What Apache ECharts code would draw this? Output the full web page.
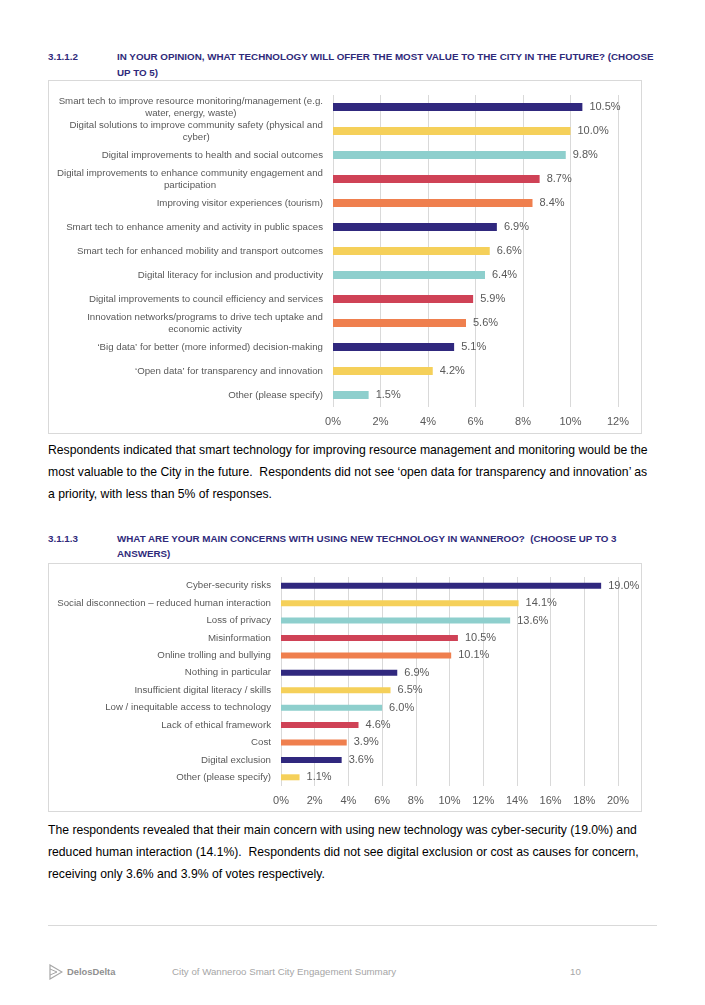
<!DOCTYPE html>
<html><head><meta charset="utf-8">
<script src="https://cdn.jsdelivr.net/npm/echarts/dist/echarts.min.js"></script>
<style>
html,body{margin:0;padding:0;background:#fff;}
body{width:705px;height:1005px;position:relative;overflow:hidden;font-family:"Liberation Sans",Arial,sans-serif;}
.h{position:absolute;color:#2f2a7a;font-weight:bold;font-size:9.8px;line-height:16px;white-space:nowrap;}
.p{position:absolute;left:48px;color:#000;font-size:12.2px;line-height:22px;white-space:nowrap;}
.box{position:absolute;border:1px solid #d9d9d9;box-sizing:border-box;}
.foot{position:absolute;color:#a6a6a6;font-size:9.7px;white-space:nowrap;}
</style></head>
<body>
<div class="h" style="left:48px;top:49px;">3.1.1.2</div>
<div class="h" style="left:117px;top:49px;">IN YOUR OPINION, WHAT TECHNOLOGY WILL OFFER THE MOST VALUE TO THE CITY IN THE FUTURE? (CHOOSE<br>UP TO 5)</div>
<div id="c1" class="box" style="left:48px;top:80px;width:594px;height:354px;"></div>
<div class="p" style="top:439px;">Respondents indicated that smart technology for improving resource management and monitoring would be the<br>most valuable to the City in the future.&nbsp; Respondents did not see ‘open data for transparency and innovation’ as<br>a priority, with less than 5% of responses.</div>
<div class="h" style="left:48px;top:531px;line-height:15px;">3.1.1.3</div>
<div class="h" style="left:117px;top:531px;line-height:15px;">WHAT ARE YOUR MAIN CONCERNS WITH USING NEW TECHNOLOGY IN WANNEROO?&nbsp; (CHOOSE UP TO 3<br>ANSWERS)</div>
<div id="c2" class="box" style="left:48px;top:563px;width:594px;height:249px;"></div>
<div class="p" style="top:819px;">The respondents revealed that their main concern with using new technology was cyber-security (19.0%) and<br>reduced human interaction (14.1%).&nbsp; Respondents did not see digital exclusion or cost as causes for concern,<br>receiving only 3.6% and 3.9% of votes respectively.</div>
<div style="position:absolute;left:48px;top:925px;width:609px;height:1px;background:#d9d9d9;"></div>
<svg style="position:absolute;left:49px;top:964px;" width="14" height="16" viewBox="0 0 14 16"><path d="M1 1 L13 8 L1 15 Z" fill="none" stroke="#a6a6a6" stroke-width="1.2"/><path d="M1 5 L8 8 L1 11" fill="none" stroke="#a6a6a6" stroke-width="1"/></svg>
<div class="foot" style="left:67px;top:966px;font-weight:bold;color:#909090;font-size:9.4px;">DelosDelta</div>
<div class="foot" style="left:172px;top:966px;">City of Wanneroo Smart City Engagement Summary</div>
<div class="foot" style="left:570px;top:966px;">10</div>
<script>
const palette = ['#30287e', '#f5d05a', '#8ecfcd', '#cf4256', '#ef7f4e'];

const techCategories = [
  'Smart tech to improve resource monitoring/management (e.g.\nwater, energy, waste)',
  'Digital solutions to improve community safety (physical and\ncyber)',
  'Digital improvements to health and social outcomes',
  'Digital improvements to enhance community engagement and\nparticipation',
  'Improving visitor experiences (tourism)',
  'Smart tech to enhance amenity and activity in public spaces',
  'Smart tech for enhanced mobility and transport outcomes',
  'Digital literacy for inclusion and productivity',
  'Digital improvements to council efficiency and services',
  'Innovation networks/programs to drive tech uptake and\neconomic activity',
  '‘Big data’ for better (more informed) decision-making',
  '‘Open data’ for transparency and innovation',
  'Other (please specify)'
];
const techValues = [10.5, 10.0, 9.8, 8.7, 8.4, 6.9, 6.6, 6.4, 5.9, 5.6, 5.1, 4.2, 1.5];
const techTicks = { min: 0, max: 12, interval: 2 };

const concernCategories = [
  'Cyber-security risks',
  'Social disconnection – reduced human interaction',
  'Loss of privacy',
  'Misinformation',
  'Online trolling and bullying',
  'Nothing in particular',
  'Insufficient digital literacy / skills',
  'Low / inequitable access to technology',
  'Lack of ethical framework',
  'Cost',
  'Digital exclusion',
  'Other (please specify)'
];
const concernValues = [19.0, 14.1, 13.6, 10.5, 10.1, 6.9, 6.5, 6.0, 4.6, 3.9, 3.6, 1.1];
const concernTicks = { min: 0, max: 20, interval: 2 };

function makeOption(cats, vals, ticks, grid, barW, lineH) {
  return {
    animation: false,
    grid: grid,
    xAxis: {
      type: 'value', min: ticks.min, max: ticks.max, interval: ticks.interval,
      axisLine: { show: false }, axisTick: { show: false },
      splitLine: { show: true, lineStyle: { color: '#d9d9d9', width: 1 } },
      axisLabel: { formatter: '{value}%', color: '#595959', fontSize: 11, margin: 9,
        fontFamily: 'Liberation Sans, Arial, sans-serif' }
    },
    yAxis: {
      type: 'category', data: cats, inverse: true,
      axisLine: { show: false }, axisTick: { show: false },
      axisLabel: {
        color: '#595959', fontSize: 9.7, margin: 10, align: 'right',
        fontFamily: 'Liberation Sans, Arial, sans-serif', lineHeight: lineH,
        formatter: function (v) { return v.split('\n').map(function (l) { return '{c|' + l + '}'; }).join('\n'); },
        rich: { c: { align: 'center', color: '#595959', fontSize: 9.7, lineHeight: lineH,
          fontFamily: 'Liberation Sans, Arial, sans-serif' } }
      }
    },
    series: [{
      type: 'bar', barWidth: barW,
      data: vals.map(function (v, i) { return { value: v, itemStyle: { color: palette[i % palette.length] } }; }),
      label: { show: true, position: 'right', distance: 7, color: '#595959', fontSize: 11,
        fontFamily: 'Liberation Sans, Arial, sans-serif',
        formatter: function (p) { return p.value.toFixed(1) + '%'; } }
    }]
  };
}

const c1 = echarts.init(document.getElementById('c1'), null, { renderer: 'canvas' });
c1.setOption(makeOption(techCategories, techValues, techTicks,
  { left: 284, right: 23, top: 14, bottom: 26, containLabel: false }, 8, 12));
const c2 = echarts.init(document.getElementById('c2'), null, { renderer: 'canvas' });
c2.setOption(makeOption(concernCategories, concernValues, concernTicks,
  { left: 232, right: 23, top: 13, bottom: 25, containLabel: false }, 6, 12));
</script>
</body></html>
